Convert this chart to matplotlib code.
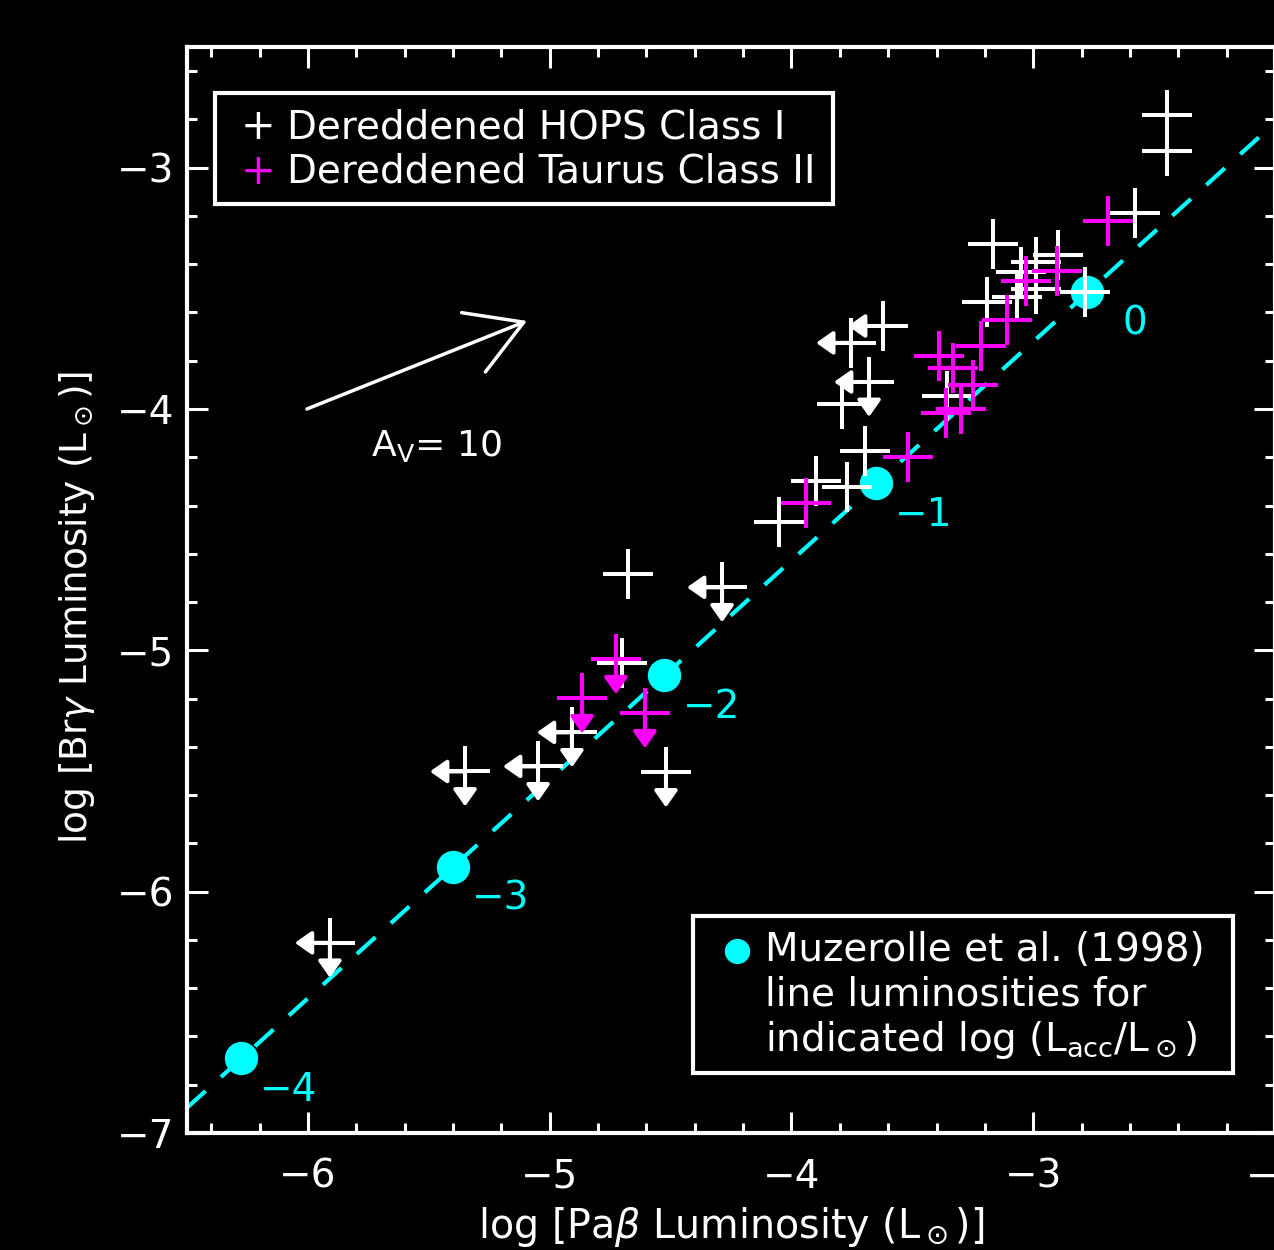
import numpy as np
import matplotlib.pyplot as plt
from matplotlib.patches import Rectangle
from matplotlib.ticker import MultipleLocator

plt.rcParams['font.family'] = ['DejaVu Sans']
plt.rcParams['mathtext.fontset'] = 'dejavusans'

# Dereddened HOPS Class I (white); lim codes: 'l' = left arrow (x upper limit), 'd' = down arrow
hops_x = [-2.446, -2.446, -2.578, -3.166, -2.897, -2.988, -3.050, -2.988, -3.067, -3.191,
          -2.785, -3.356, -3.621, -3.753, -3.679, -3.791, -3.696, -3.898, -3.770, -4.051,
          -4.676, -4.287, -4.701, -4.908, -5.048, -4.519, -5.350, -5.909]
hops_y = [-2.780, -2.929, -3.187, -3.315, -3.361, -3.390, -3.432, -3.502, -3.535, -3.556,
          -3.515, -3.946, -3.656, -3.726, -3.888, -3.979, -4.174, -4.299, -4.324, -4.469,
          -4.685, -4.739, -5.054, -5.340, -5.481, -5.506, -5.502, -6.212]
hops_lim = ['', '', '', '', '', '', '', '', '', '',
            '', '', 'l', 'l', 'ld', '', '', '', '', '',
            '', 'ld', '', 'ld', 'ld', 'd', 'ld', 'ld']

# Dereddened Taurus Class II (magenta)
taurus_x = [-2.690, -2.901, -3.029, -3.108, -3.216, -3.389, -3.331, -3.249, -3.298, -3.360,
            -3.518, -3.940, -4.726, -4.866, -4.606]
taurus_y = [-3.220, -3.427, -3.469, -3.631, -3.739, -3.780, -3.830, -3.900, -4.000, -4.017,
            -4.199, -4.390, -5.037, -5.199, -5.261]
taurus_lim = ['', '', '', '', '', '', '', '', '', '',
              '', '', 'd', 'd', 'd']

# Muzerolle et al. (1998) model points, labelled by log(Lacc/Lsun)
muz_x = [-6.277, -5.400, -4.527, -3.650, -2.777]
muz_y = [-6.689, -5.896, -5.104, -4.307, -3.515]
muz_lab = ['\u22124', '\u22123', '\u22122', '\u22121', '0']

# dashed relation
line_slope = 0.907
line_icpt = -1.0

# reddening vector A_V = 10
av_tail = (-6.004, -4.000)
av_head = (-5.094, -3.635)

CYAN = '#00ffff'
MAG = '#ff00ff'
W = 'white'
arr_len = 0.145

fig = plt.figure(figsize=(12.74, 12.5), dpi=100, facecolor='black')
ax = fig.add_axes([187 / 1274, 117 / 1250, 1088 / 1274, 1086 / 1250])
ax.set_facecolor('black')

xl = np.array([-6.5, -2.0])
ax.plot(xl, line_slope * xl + line_icpt, color=CYAN, lw=3, dashes=(6, 5), zorder=1)
ax.plot(muz_x, muz_y, 'o', color=CYAN, ms=24, mec='none', zorder=2)
for x, y, t in zip(muz_x, muz_y, muz_lab):
    ax.annotate(t, (x, y), xytext=(34.5, -23), textcoords='offset points',
                color=CYAN, fontsize=28, ha='center', va='center', zorder=2)


def crosses(xs, ys, lims, col, z):
    ax.plot(xs, ys, '+', color=col, ms=36, mew=2.9, ls='none', zorder=z)
    for x, y, lim in zip(xs, ys, lims):
        if 'l' in lim:
            ax.annotate('', xy=(x - arr_len, y), xytext=(x, y),
                        arrowprops=dict(arrowstyle='-|>,head_length=0.5,head_width=0.35', color=col,
                                        lw=2.9, shrinkA=0, shrinkB=0, mutation_scale=20), zorder=z)
        if 'd' in lim:
            ax.annotate('', xy=(x, y - arr_len), xytext=(x, y),
                        arrowprops=dict(arrowstyle='-|>,head_length=0.5,head_width=0.35', color=col,
                                        lw=2.9, shrinkA=0, shrinkB=0, mutation_scale=20), zorder=z)


crosses(hops_x, hops_y, hops_lim, W, 3)
crosses(taurus_x, taurus_y, taurus_lim, MAG, 4)

# A_V arrow
ax.annotate('', xy=av_head, xytext=av_tail,
            arrowprops=dict(arrowstyle='->,head_length=0.39,head_width=0.23', color=W, lw=2.5,
                            shrinkA=0, shrinkB=0, mutation_scale=100))
ax.text(-5.47, -4.154, r'A$_{\rm V}$= 10', color=W, fontsize=26, ha='center', va='center')

ax.set_xlim(-6.5, -2.0)
ax.set_ylim(-7.0, -2.5)
ax.xaxis.set_major_locator(MultipleLocator(1))
ax.xaxis.set_minor_locator(MultipleLocator(0.2))
ax.yaxis.set_major_locator(MultipleLocator(1))
ax.yaxis.set_minor_locator(MultipleLocator(0.2))
ax.tick_params(which='both', direction='in', top=True, right=True, colors=W, width=2.2)
ax.tick_params(which='major', length=15)
ax.tick_params(which='minor', length=7)
ax.tick_params(axis='x', labelsize=28, pad=18)
ax.tick_params(axis='y', labelsize=28, pad=9)
for s in ax.spines.values():
    s.set_color(W)
    s.set_linewidth(3)

ax.set_xlabel(r'log [Pa$\beta$ Luminosity (L$_\odot$)]', color=W, fontsize=28.5)
ax.set_ylabel(r'log [Br$\gamma$ Luminosity (L$_\odot$)]', color=W, fontsize=27)
ax.xaxis.set_label_coords(0.5, -0.066)
ax.yaxis.set_label_coords(-0.083, 0.484)

# legend boxes
tr = ax.transAxes
ax.add_patch(Rectangle((0.0257, 0.855), 0.568, 0.103, transform=tr, fill=False,
                       ec=W, lw=3, zorder=6))
ax.text(0.0653, 0.926, '+', color=W, fontsize=30, ha='center', va='center', transform=tr)
ax.text(0.0653, 0.885, '+', color=MAG, fontsize=30, ha='center', va='center', transform=tr)
ax.text(0.092, 0.926, 'Dereddened HOPS Class I', color=W, fontsize=28, va='center', transform=tr)
ax.text(0.092, 0.885, 'Dereddened Taurus Class II', color=W, fontsize=28, va='center', transform=tr)

ax.add_patch(Rectangle((0.465, 0.0552), 0.4964, 0.1446, transform=tr, fill=False,
                       ec=W, lw=3, zorder=6))
ax.text(0.5055, 0.1685, '\u25cf', color=CYAN, fontsize=24, ha='center', va='center', transform=tr)
ax.text(0.531, 0.1685, 'Muzerolle et al. (1998)', color=W, fontsize=28, va='center', transform=tr)
ax.text(0.531, 0.1271, 'line luminosities for', color=W, fontsize=28, va='center', transform=tr)
ax.text(0.531, 0.0856, r'indicated log (L$_{\rm acc}$/L$_\odot$)', color=W, fontsize=28,
        va='center', transform=tr)

plt.savefig('out.png', dpi=100, facecolor='black')
